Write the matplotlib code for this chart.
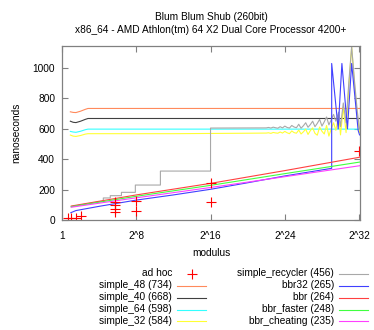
import matplotlib
matplotlib.use('Agg')
import matplotlib.pyplot as plt
from matplotlib.lines import Line2D

plt.rcParams['font.family'] = ['Liberation Sans', 'DejaVu Sans']
plt.rcParams['font.size'] = 7.3

# x is log2(modulus)
x_ticks = [0, 8, 16, 24, 32]
x_labels = ['1', '2^8', '2^16', '2^24', '2^32']
y_ticks = [0, 200, 400, 600, 800, 1000]

adhoc_x = [0.6, 1.0, 1.5, 2.0, 5.7, 5.7, 5.7, 5.7, 8.0, 8.0, 16.0, 16.0, 32.0]
adhoc_y = [12, 15, 16, 28, 120, 100, 75, 50, 122, 60, 241, 120, 455]

simple_x = [0.9, 1.2, 1.5, 2.0, 2.5, 2.8, 32.05]
simple_48 = [712, 708, 707, 716, 728, 734, 734]
simple_40 = [650, 643, 641, 650, 662, 668, 668]
simple_64 = [583, 579, 577, 584, 594, 598, 598]

tail_x = [22.0, 22.25, 22.5, 22.75, 23.0, 23.25, 23.5, 23.75, 24.0, 24.25,
          24.5, 24.75, 25.0, 25.25, 25.5, 25.75, 26.0, 26.25, 26.5, 26.75,
          27.0, 27.25, 27.5, 27.75, 28.0, 28.25, 28.5, 28.75, 29.0, 29.25,
          29.5, 29.8, 30.0, 30.3, 30.6, 30.9, 31.2, 31.5, 31.8, 32.05]

simple_32_x = [0.9, 1.2, 1.5, 2.0, 2.5, 2.8, 12.0, 20.0] + tail_x
simple_32 = [559, 552, 550, 556, 565, 568, 568, 571,
             572, 574, 570, 576, 573, 571, 579, 572, 583, 574,
             568, 586, 575, 571, 592, 566, 580, 598, 563, 588,
             606, 570, 558, 612, 584, 566, 622, 552, 600, 640,
             590, 690, 560, 740, 575, 880, 1140, 900, 690, 575]

recycler_x = [1.0, 4.45, 4.45, 5.2, 5.2, 6.4, 6.4, 7.9, 7.9, 10.6, 10.6,
              16.0, 16.0] + tail_x
recycler = [88, 125, 145, 145, 160, 160, 182, 182, 230, 230, 322,
            322, 605,
            606, 609, 605, 611, 607, 604, 614, 606, 618, 609,
            605, 622, 612, 607, 630, 604, 620, 640, 610, 628,
            650, 614, 636, 662, 618, 646, 678, 626, 660, 695,
            650, 710, 615, 770, 640, 910, 1140, 920, 720, 600]

bbr32_x = [0.95, 1.5, 4.0, 8.0, 12.0, 16.0, 20.0, 24.0, 29.05, 29.05,
           29.75, 30.15, 30.75, 31.2, 31.9, 32.05]
bbr32 = [48, 62, 90, 131, 165, 202, 245, 290, 340, 1030,
         600, 1030, 600, 1030, 590, 560]

lin_x = [1.0, 8.0, 16.0, 24.0, 32.05]
bbr = [92, 165, 241, 325, 413]
bbr_faster = [88, 156, 228, 305, 381]
bbr_cheating = [84, 146, 214, 285, 357]

series = [
    ('simple_48 (734)', simple_x, simple_48, '#ff8a5c'),
    ('simple_40 (668)', simple_x, simple_40, '#404040'),
    ('simple_64 (598)', simple_x, simple_64, '#33ffff'),
    ('simple_32 (584)', simple_32_x, simple_32, '#ffff33'),
    ('simple_recycler (456)', recycler_x, recycler, '#a8a8a8'),
    ('bbr32 (265)', bbr32_x, bbr32, '#4040ff'),
    ('bbr (264)', lin_x, bbr, '#ff4040'),
    ('bbr_faster (248)', lin_x, bbr_faster, '#40ff40'),
    ('bbr_cheating (235)', lin_x, bbr_cheating, '#ff40ff'),
]

W, H = 374, 330
fig = plt.figure(figsize=(W / 100, H / 100), dpi=100)
ax = fig.add_axes([62 / W, 1 - 220 / H, 298 / W, 174 / H])

for name, xs, ys, c in series:
    ax.plot(xs, ys, color=c, lw=0.8)
ax.plot(adhoc_x, adhoc_y, '+', color='#ff0000', ms=7, mew=0.8, ls='none')

ax.set_xlim(0, 32.1)
ax.set_ylim(0, 1145)
ax.set_xticks(x_ticks)
ax.set_xticklabels(x_labels)
ax.set_yticks(y_ticks)
for s in ax.spines.values():
    s.set_color('#808080')
    s.set_linewidth(0.9)
ax.tick_params(direction='in', length=4, width=0.8, color='#808080',
               top=True, right=True)
ax.tick_params(axis='x', pad=8)
ax.tick_params(axis='y', pad=5)

fig.text(211 / W, 1 - 17 / H, 'Blum Blum Shub (260bit)', ha='center', va='center')
fig.text(211 / W, 1 - 30 / H,
         'x86_64 - AMD Athlon(tm) 64 X2 Dual Core Processor 4200+',
         ha='center', va='center')
fig.text(211 / W, 1 - 253 / H, 'modulus', ha='center', va='center')
fig.text(16 / W, 1 - 133 / H, 'nanoseconds', ha='center', va='center',
         rotation=90)

# legend drawn gnuplot-style: right-aligned text, sample to the right
rows = [273.5, 285.5, 297.5, 309.5, 321]
entries = [('ad hoc', None)] + [(s[0], s[3]) for s in series]
for i, (name, c) in enumerate(entries):
    col, row = divmod(i, 5)
    tx = 172 if col == 0 else 334
    lx0 = tx + 5
    lx1 = lx0 + 29
    y = 1 - rows[row] / H
    fig.text(tx / W, y, name, ha='right', va='center')
    if c is None:
        fig.add_artist(Line2D([(lx0 + lx1) / 2 / W], [y], marker='+',
                              color='#ff0000', ms=7, mew=0.8,
                              transform=fig.transFigure))
    else:
        fig.add_artist(Line2D([lx0 / W, lx1 / W], [y, y], color=c, lw=0.8,
                              transform=fig.transFigure))

fig.savefig('out.png', dpi=100)
